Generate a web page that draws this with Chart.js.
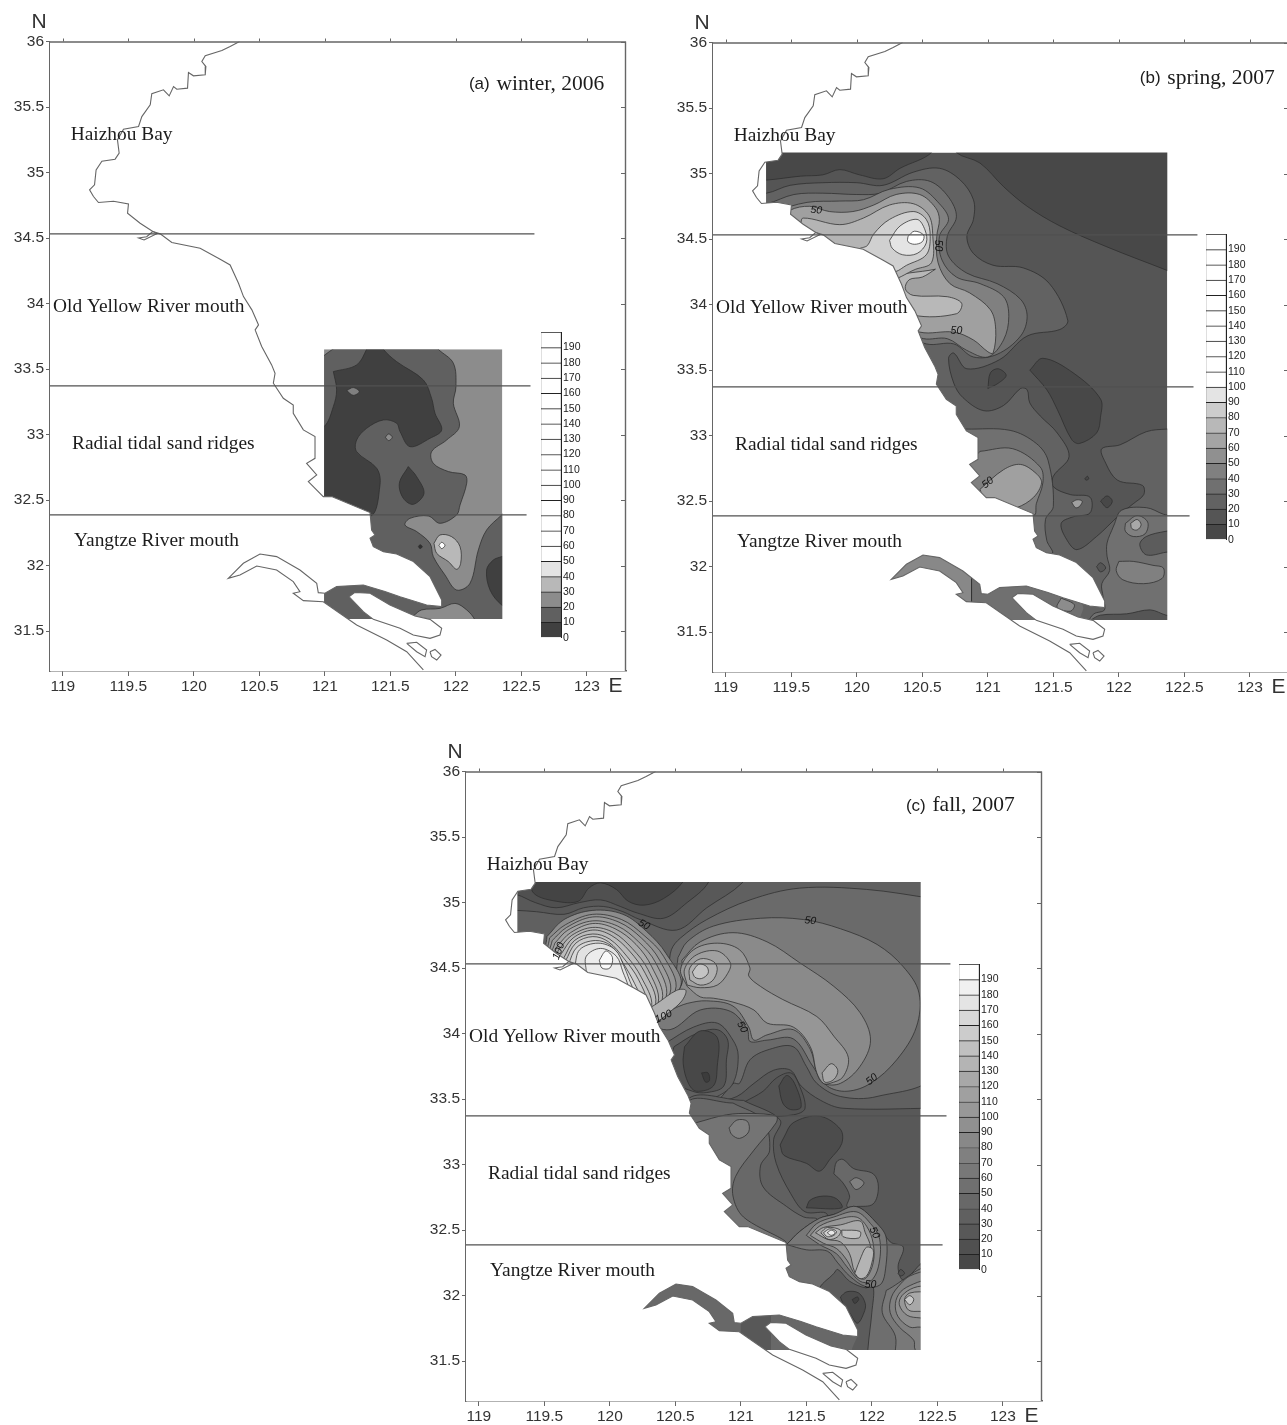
<!DOCTYPE html>
<html><head><meta charset="utf-8">
<style>html,body{margin:0;padding:0;background:#fff;overflow:hidden;width:1287px;height:1425px}canvas{position:absolute;display:block}</style>
<script src="https://cdn.jsdelivr.net/npm/chart.js@4/dist/chart.umd.js"></script>
</head><body>
<script>
// ---------- axes ----------
const lonTicks=[119,119.5,120,120.5,121,121.5,122,122.5,123];
const latTicks=[31.5,32,32.5,33,33.5,34,34.5,35,35.5,36];
const legendTicks=[0,10,20,30,40,50,60,70,80,90,100,110,120,130,140,150,160,170,180,190];
// ---------- coastline (lon,lat) ----------
const coastNorth=[[120.349,36],[120.277,35.962],[120.214,35.931],[120.087,35.891],[120.061,35.847],[120.092,35.809],[120.087,35.746],[119.997,35.738],[119.959,35.763],[119.952,35.644],[119.870,35.636],[119.845,35.656],[119.812,35.585],[119.768,35.631],[119.679,35.601],[119.667,35.517],[119.603,35.427],[119.578,35.351],[119.463,35.331],[119.417,35.249],[119.430,35.148],[119.399,35.102],[119.298,35.087],[119.254,35.020],[119.242,34.906],[119.204,34.868],[119.234,34.817],[119.272,34.771],[119.387,34.781],[119.501,34.761],[119.494,34.690],[119.590,34.613],[119.687,34.550],[119.743,34.532],[119.832,34.466],[120.048,34.422],[120.201,34.338],[120.277,34.295],[120.341,34.155],[120.379,34.053],[120.443,33.952],[120.494,33.837],[120.468,33.799],[120.518,33.672],[120.594,33.532],[120.620,33.468],[120.607,33.392],[120.683,33.277],[120.759,33.226],[120.759,33.163],[120.836,33.036],[120.925,32.985],[120.925,32.819],[120.861,32.781],[120.938,32.692],[120.874,32.641],[120.988,32.527],[121.052,32.527],[121.345,32.405],[121.357,32.272],[121.383,32.234],[121.345,32.209],[121.370,32.145],[121.447,32.107],[121.548,32.089],[121.676,32.031],[121.803,31.916],[121.892,31.738],[121.892,31.687]];
const riverNorth=[[121.777,31.700],[121.574,31.763],[121.459,31.802],[121.294,31.852],[121.090,31.840],[121.001,31.789],[120.950,31.794],[120.938,31.865],[120.810,31.967],[120.632,32.069],[120.505,32.089],[120.378,32.018],[120.263,31.903]];
const riverSouth=[[120.263,31.903],[120.352,31.929],[120.480,31.997],[120.632,31.967],[120.759,31.878],[120.810,31.801],[120.759,31.789],[120.836,31.733],[120.988,31.725],[121.243,31.547],[121.472,31.433],[121.625,31.343],[121.752,31.204]];
const landNorthEnd=[[118.9,31.903],[118.9,36.01],[120.349,36.01]];
const landSouthEnd=[[121.8,31.19],[118.9,31.19],[118.9,31.96],[120.2,31.96]];
const chongming=[[121.184,31.763],[121.230,31.796],[121.345,31.789],[121.497,31.700],[121.688,31.616],[121.803,31.590],[121.892,31.522],[121.879,31.471],[121.803,31.445],[121.675,31.471],[121.574,31.522],[121.370,31.590],[121.294,31.649]];
const isleA=[[121.625,31.407],[121.701,31.415],[121.777,31.356],[121.765,31.305],[121.701,31.343]];
const isleB=[[121.803,31.343],[121.841,31.361],[121.887,31.318],[121.854,31.280],[121.815,31.305]];
const spit=[[119.687,34.550],[119.640,34.510],[119.578,34.500],[119.620,34.485],[119.720,34.535]];
// ---------- zone divider latitudes and east ends ----------
const dividerLat=[34.532,33.372,32.387];
const dividerEnd=[122.6,122.57,122.54];
// ---------- shading levels ----------
const shadesA=['#404040','#606060','#8c8c8c','#b8b8b8','#e4e4e4','#fff','#fff','#fff','#fff','#fff','#fff','#fff','#fff','#fff','#fff','#fff','#fff','#fff','#fff','#fff'];
const shadesB=['#484848','#555555','#626262','#707070','#808080','#909090','#a4a4a4','#b8b8b8','#cccccc','#e4e4e4','#fff','#fff','#fff','#fff','#fff','#fff','#fff','#fff','#fff','#fff'];
const shadesC=['#484848','#505050','#585858','#606060','#686868','#707070','#787878','#808080','#888888','#909090','#989898','#a0a0a0','#a8a8a8','#b4b4b4','#c0c0c0','#cccccc','#d8d8d8','#e4e4e4','#f0f0f0','#ffffff'];
// ---------- panel (a) ----------
const boxA=[120.994,31.593,122.355,33.651];
const aMid=[[120.912,33.545],[121.167,33.697],[121.828,33.697],[121.866,33.651],[121.981,33.545],[122.001,33.366],[121.981,33.239],[122.027,33.061],[121.930,32.959],[121.815,32.870],[121.828,32.781],[121.943,32.718],[122.070,32.692],[122.083,32.629],[122.032,32.463],[122.006,32.387],[121.879,32.323],[121.790,32.379],[121.650,32.361],[121.612,32.310],[121.701,32.260],[121.803,32.170],[121.828,32.069],[121.917,31.929],[122.006,31.814],[122.108,31.865],[122.172,32.120],[122.235,32.272],[122.350,32.387],[122.414,32.450],[122.414,31.509],[120.912,31.509]];
const aDark=[[121.065,33.481],[121.243,33.532],[121.319,33.651],[121.332,33.697],[121.434,33.697],[121.447,33.651],[121.548,33.557],[121.752,33.417],[121.815,33.277],[121.841,33.163],[121.892,33.036],[121.803,32.972],[121.650,32.908],[121.574,33.023],[121.548,33.087],[121.447,33.112],[121.319,33.048],[121.243,32.959],[121.243,32.870],[121.396,32.743],[121.421,32.616],[121.345,32.374],[121.0,32.45],[120.887,32.578],[120.887,33.061],[120.994,33.061],[121.065,33.214],[121.090,33.341]];
const aSpot1=[[121.167,33.336],[121.217,33.359],[121.263,33.328],[121.217,33.300]];
const aSpot2=[[121.462,32.980],[121.487,33.005],[121.515,32.980],[121.487,32.954]];
const aIsle=[[121.637,32.756],[121.701,32.679],[121.757,32.552],[121.676,32.468],[121.599,32.514],[121.569,32.629]];
const aDot=[[121.714,32.145],[121.727,32.160],[121.744,32.145],[121.727,32.130]];
const aLight=[[121.833,32.171],[121.879,32.234],[121.968,32.221],[122.032,32.145],[122.037,32.018],[122.006,31.972],[121.943,32.031],[121.854,32.094]];
const aPeak=[[121.871,32.155],[121.892,32.178],[121.917,32.155],[121.892,32.130]];
const aEast=[[122.350,32.069],[122.286,32.043],[122.235,31.967],[122.261,31.814],[122.350,31.700],[122.414,31.687],[122.414,32.069]];
const aMouth=[[121.675,31.616],[121.739,31.662],[121.879,31.674],[121.994,31.712],[122.083,31.662],[122.146,31.585],[122.159,31.509],[121.675,31.509]];
// ---------- panel (b) ----------
const boxB=[119.307,31.593,122.37,35.160];
const bNE=[[120.74,35.26],[120.76,35.16],[120.94,35.08],[121.12,34.90],[121.30,34.75],[121.55,34.60],[121.91,34.44],[122.37,34.26],[122.54,34.19],[122.54,35.26]];
const bNW=[[119.16,34.95],[119.31,34.95],[119.57,34.98],[119.74,34.99],[119.87,35.03],[120.02,34.99],[120.20,34.96],[120.33,35.04],[120.57,35.16],[120.56,35.26],[119.16,35.26]];
const bL20=[[119.16,34.86],[119.31,34.85],[119.49,34.91],[119.74,34.93],[120.0,34.93],[120.20,34.91],[120.43,35.01],[120.63,35.04],[120.79,34.95],[120.89,34.80],[120.89,34.65],[120.84,34.52],[120.89,34.39],[121.04,34.30],[121.27,34.28],[121.47,34.16],[121.61,33.88],[121.55,33.81],[121.30,33.76],[121.09,33.58],[120.84,33.51],[120.74,33.63],[120.70,33.59],[120.74,33.40],[120.81,33.29],[120.97,33.19],[121.12,33.23],[121.25,33.36],[121.30,33.35],[121.32,33.25],[121.40,33.15],[121.53,33.02],[121.62,32.84],[121.50,32.69],[121.50,32.61],[121.63,32.55],[121.78,32.53],[121.78,32.41],[121.65,32.38],[121.56,32.33],[121.60,32.21],[121.68,32.13],[121.83,32.23],[122.0,32.39],[122.11,32.48],[122.19,32.55],[122.18,32.62],[121.99,32.66],[121.89,32.81],[121.87,32.90],[122.01,32.93],[122.21,33.03],[122.37,33.05],[122.47,33.05],[122.47,31.49],[120.18,31.49],[120.0,31.5],[120.0,33.2],[119.74,34.37],[119.16,34.75]];
const bL30=[[119.16,34.77],[119.31,34.77],[119.52,34.84],[119.74,34.85],[120.0,34.84],[120.18,34.85],[120.38,34.94],[120.56,34.94],[120.70,34.82],[120.76,34.67],[120.69,34.52],[120.70,34.37],[120.84,34.24],[121.07,34.16],[121.25,34.04],[121.30,33.91],[121.25,33.76],[121.07,33.62],[120.89,33.60],[120.74,33.70],[120.53,33.70],[120.13,33.86],[119.74,34.37]];
const bL40=[[119.36,34.71],[119.62,34.78],[119.87,34.79],[120.05,34.80],[120.25,34.88],[120.48,34.89],[120.63,34.77],[120.70,34.65],[120.63,34.52],[120.65,34.34],[120.76,34.21],[120.94,34.16],[121.12,34.06],[121.16,33.91],[121.12,33.73],[121.0,33.60],[120.84,33.65],[120.69,33.74],[120.51,33.74],[120.13,33.86],[119.74,34.37]];
const bL50=[[119.44,34.65],[119.49,34.72],[119.64,34.75],[119.79,34.71],[119.97,34.71],[120.13,34.76],[120.30,34.84],[120.48,34.84],[120.60,34.74],[120.63,34.65],[120.61,34.52],[120.62,34.32],[120.71,34.16],[120.86,34.09],[121.02,33.96],[121.06,33.81],[121.04,33.63],[121.0,33.64],[120.89,33.73],[120.74,33.79],[120.48,33.79],[120.13,33.93],[119.74,34.37]];
const bLobe=[[120.60,34.27],[120.50,34.21],[120.40,34.19],[120.37,34.12],[120.43,34.07],[120.69,34.06],[120.80,34.01],[120.76,33.93],[120.43,33.92],[120.23,34.04],[120.23,34.19]];
const bL60=[[119.57,34.60],[119.59,34.66],[119.87,34.61],[120.05,34.66],[120.25,34.76],[120.43,34.77],[120.55,34.68],[120.58,34.52],[120.57,34.32],[120.45,34.27],[120.23,34.19],[119.87,34.37]];
const bL70=[[120.13,34.30],[120.02,34.42],[120.08,34.45],[120.13,34.54],[120.25,34.65],[120.43,34.71],[120.53,34.65],[120.56,34.52],[120.53,34.38],[120.38,34.30],[120.28,34.25]];
const bL80=[[120.25,34.49],[120.33,34.60],[120.46,34.65],[120.52,34.57],[120.53,34.47],[120.46,34.39],[120.35,34.38],[120.27,34.43]];
const bPeak=[[120.39,34.52],[120.44,34.56],[120.51,34.53],[120.50,34.48],[120.44,34.46],[120.39,34.48]];
const bBlobMid=[[121.32,33.50],[121.42,33.59],[121.65,33.48],[121.86,33.28],[121.86,33.14],[121.83,33.02],[121.70,32.94],[121.64,32.97],[121.53,33.20],[121.45,33.35]];
const bBlobW=[[121.0,33.36],[121.02,33.48],[121.08,33.51],[121.14,33.46],[121.08,33.40]];
const bCoast1=[[120.83,33.05],[121.17,33.04],[121.37,32.94],[121.46,32.81],[121.50,32.46],[121.44,32.36],[121.45,32.20],[121.49,32.10],[121.19,32.10],[120.69,32.66],[120.69,33.09]];
const bCoast2=[[120.94,32.88],[121.19,32.90],[121.40,32.76],[121.42,32.64],[121.37,32.48],[121.35,32.39],[120.94,32.36],[120.76,32.66]];
const bCoast3=[[120.94,32.59],[121.12,32.74],[121.25,32.78],[121.37,32.71],[121.41,32.64],[121.35,32.53],[121.22,32.45],[121.02,32.41]];
const bSpotLight=[[121.64,32.49],[121.68,32.51],[121.72,32.50],[121.70,32.46],[121.67,32.45]];
const bSpotDark=[[121.86,32.50],[121.91,32.54],[121.95,32.50],[121.91,32.45]];
const bDot=[[121.74,32.67],[121.76,32.69],[121.77,32.67],[121.75,32.66]];
const bEast=[[121.96,32.31],[122.02,32.43],[122.21,32.45],[122.34,32.40],[122.47,32.36],[122.47,31.49],[121.77,31.49],[121.77,31.58],[121.81,31.64],[121.89,31.67],[121.88,31.77],[121.87,31.87],[121.93,31.97],[121.91,32.08],[121.91,32.18]];
const bEastDark=[[122.47,32.28],[122.36,32.27],[122.21,32.23],[122.16,32.17],[122.21,32.09],[122.36,32.11],[122.47,32.13]];
const bEastLobe=[[122.00,32.04],[122.11,32.04],[122.26,32.01],[122.34,31.99],[122.33,31.91],[122.19,31.87],[122.03,31.90],[121.98,31.97]];
const bRing=[[122.05,32.33],[122.14,32.39],[122.22,32.34],[122.20,32.25],[122.11,32.23],[122.05,32.27]];
const bRingIn=[[122.09,32.33],[122.14,32.36],[122.17,32.32],[122.14,32.28],[122.10,32.29]];
const bDot2=[[121.83,32.00],[121.86,32.03],[121.90,31.99],[121.86,31.96]];
const bSouth=[[121.78,31.59],[121.86,31.63],[122.06,31.64],[122.24,31.67],[122.36,31.63],[122.47,31.61],[122.47,31.49],[121.78,31.49]];
const bRiverW=[[120.877,32.2],[120.877,31.6],[120.1,31.6],[120.1,32.2]];
const bRiverMid=[[120.88,31.95],[121.0,31.95],[121.70,31.80],[121.73,31.68],[121.70,31.60],[121.70,31.5],[120.88,31.5]];
const bRiverPatch=[[121.56,31.76],[121.66,31.71],[121.63,31.66],[121.53,31.69]];
// ---------- panel (c) ----------
const boxC=[119.294,31.585,122.373,35.156];
const cNorth=[[122.47,33.43],[121.78,33.43],[121.61,33.49],[121.46,33.60],[121.38,33.72],[121.25,33.72],[121.10,33.62],[120.97,33.52],[120.79,33.47],[120.63,33.42],[120.31,33.42],[119.80,33.98],[119.21,34.74],[119.21,35.25],[122.47,35.25]];
const cTop2=[[119.21,34.94],[119.29,34.94],[119.44,34.93],[119.65,34.91],[119.80,34.96],[119.95,34.97],[120.10,34.93],[120.23,34.87],[120.51,34.79],[120.74,34.96],[121.01,35.15],[121.02,35.25],[119.21,35.25]];
const cTop1=[[119.21,35.06],[119.29,35.06],[119.43,35.0],[119.59,34.96],[119.77,35.0],[119.93,35.02],[120.08,34.97],[120.21,34.92],[120.41,34.88],[120.59,35.0],[120.75,35.15],[120.74,35.25],[119.21,35.25]];
const cTop0=[[119.39,35.20],[119.42,35.07],[119.59,35.01],[119.76,35.01],[119.84,35.11],[119.93,35.15],[120.05,35.10],[120.14,35.01],[120.26,34.98],[120.41,35.03],[120.56,35.16],[120.57,35.25],[119.39,35.25]];
const cA=[[122.47,35.03],[121.96,35.10],[121.45,35.11],[121.07,35.02],[120.74,34.87],[120.54,34.73],[120.47,34.64],[120.46,34.51],[120.50,34.44],[120.54,34.36],[120.41,34.10],[120.31,33.93],[120.31,33.47],[120.63,33.44],[120.82,33.49],[120.94,33.62],[120.99,33.62],[121.07,33.80],[121.22,33.88],[121.40,33.90],[121.50,33.75],[121.58,33.62],[121.76,33.52],[122.04,33.52],[122.47,33.70]];
const cB=[[120.52,34.58],[120.59,34.70],[120.79,34.82],[121.15,34.88],[121.48,34.87],[121.76,34.80],[122.04,34.68],[122.24,34.51],[122.36,34.31],[122.34,34.05],[122.19,33.80],[121.99,33.62],[121.81,33.56],[121.66,33.60],[121.55,33.75],[121.40,33.96],[121.20,33.95],[121.07,33.94],[121.05,34.03],[120.92,34.17],[120.69,34.18],[120.46,34.03],[120.28,34.10],[120.43,34.23],[120.55,34.36],[120.51,34.44]];
const cC=[[120.55,34.56],[120.69,34.70],[120.94,34.77],[121.20,34.70],[121.45,34.54],[121.71,34.36],[121.91,34.16],[121.99,33.95],[121.91,33.75],[121.76,33.62],[121.63,33.62],[121.58,33.70],[121.53,33.88],[121.40,34.03],[121.20,33.99],[121.10,33.95],[121.06,34.05],[120.94,34.21],[120.74,34.25],[120.59,34.23],[120.43,34.18],[120.55,34.38]];
const cD=[[120.59,34.36],[120.54,34.49],[120.64,34.64],[120.82,34.69],[120.99,34.64],[121.07,34.50],[121.06,34.44],[121.15,34.36],[121.32,34.26],[121.58,34.13],[121.71,33.98],[121.82,33.82],[121.78,33.67],[121.68,33.62],[121.63,33.62],[121.58,33.70],[121.53,33.90],[121.40,34.05],[121.20,34.08],[121.10,34.18],[120.94,34.24],[120.79,34.27],[120.69,34.28]];
const cRing2=[[120.59,34.37],[120.57,34.49],[120.66,34.60],[120.82,34.63],[120.92,34.54],[120.90,34.46],[120.82,34.37],[120.69,34.35]];
const cRing3=[[120.61,34.41],[120.61,34.50],[120.69,34.57],[120.79,34.55],[120.82,34.49],[120.78,34.40],[120.69,34.37]];
const cRing4=[[120.63,34.47],[120.68,34.53],[120.74,34.51],[120.75,34.46],[120.70,34.42],[120.65,34.43]];
const cLobeE=[[121.62,33.70],[121.69,33.77],[121.74,33.72],[121.71,33.65],[121.64,33.63]];
const cN100=[[120.28,34.18],[120.36,34.23],[120.51,34.33],[120.58,34.33],[120.55,34.25],[120.45,34.16],[120.36,34.10]];
const peakLand=[[120.2,34.0],[119.5,34.4]];
const arc0=[[119.52,34.74],[119.65,34.87],[119.87,34.94],[120.10,34.91],[120.28,34.78],[120.43,34.61],[120.54,34.36]];
const arc1=[[119.54,34.73],[119.66,34.83],[119.87,34.91],[120.09,34.87],[120.26,34.75],[120.41,34.59],[120.50,34.33]];
const arc2=[[119.56,34.71],[119.67,34.81],[119.87,34.89],[120.07,34.85],[120.24,34.73],[120.38,34.56],[120.46,34.31]];
const arc3=[[119.58,34.69],[119.68,34.79],[119.87,34.86],[120.06,34.82],[120.22,34.70],[120.35,34.54],[120.43,34.28]];
const arc4=[[119.60,34.67],[119.70,34.77],[119.87,34.84],[120.04,34.80],[120.20,34.68],[120.32,34.51],[120.40,34.26]];
const arc5=[[119.61,34.64],[119.71,34.75],[119.87,34.81],[120.03,34.77],[120.17,34.65],[120.29,34.49],[120.37,34.24]];
const arc6=[[119.63,34.61],[119.72,34.73],[119.87,34.79],[120.01,34.75],[120.15,34.63],[120.27,34.46],[120.35,34.23]];
const arc7=[[119.65,34.58],[119.73,34.71],[119.87,34.76],[120.0,34.72],[120.13,34.59],[120.24,34.43],[120.32,34.21]];
const arc8=[[119.66,34.55],[119.74,34.69],[119.87,34.74],[119.99,34.70],[120.11,34.57],[120.22,34.41],[120.29,34.20]];
const arc9=[[119.68,34.52],[119.75,34.66],[119.89,34.71],[120.01,34.67],[120.10,34.54],[120.19,34.38],[120.26,34.20]];
const arc10=[[119.73,34.50],[119.77,34.64],[119.91,34.69],[120.04,34.64],[120.11,34.51],[120.17,34.36],[120.23,34.26]];
const arc11=[[119.82,34.47],[119.82,34.59],[119.93,34.65],[120.05,34.59],[120.10,34.47],[120.14,34.36]];
const cPeak=[[119.92,34.56],[119.97,34.63],[120.02,34.58],[120.0,34.50],[119.94,34.50]];
const cLobe1=[[120.43,33.93],[120.64,34.05],[120.82,34.08],[120.94,33.95],[120.98,33.83],[120.94,33.62],[120.82,33.52],[120.64,33.47],[120.38,33.60]];
const cLobe2=[[120.49,33.90],[120.66,34.0],[120.82,34.03],[120.90,33.95],[120.89,33.80],[120.87,33.60],[120.74,33.55],[120.63,33.56],[120.43,33.67]];
const cLobe3=[[120.57,33.90],[120.69,34.02],[120.82,33.97],[120.82,33.75],[120.79,33.60],[120.66,33.56],[120.60,33.62],[120.56,33.77]];
const cLobeSpot=[[120.70,33.70],[120.75,33.70],[120.76,33.64],[120.73,33.63]];
const cP0=[[121.03,33.48],[121.17,33.56],[121.27,33.66],[121.38,33.70],[121.44,33.62],[121.49,33.43],[121.40,33.38],[121.15,33.38]];
const cP1=[[121.29,33.60],[121.35,33.68],[121.41,33.62],[121.46,33.44],[121.38,33.42],[121.32,33.47]];
const cWestC=[[121.02,33.49],[121.30,33.34],[121.25,33.19],[121.27,33.01],[121.38,32.78],[121.49,32.64],[121.66,32.62],[121.66,32.35],[120.84,32.35],[120.46,32.73],[120.59,33.49]];
const cWestB=[[120.94,33.47],[121.17,33.34],[121.22,33.11],[121.15,32.99],[121.17,32.83],[121.35,32.68],[121.48,32.60],[121.58,32.58],[121.35,32.35],[120.84,32.35],[120.46,32.73],[120.59,33.47]];
const cWestA=[[120.66,33.32],[120.89,33.38],[121.07,33.39],[121.27,33.37],[121.27,33.32],[121.10,33.11],[120.96,32.91],[120.94,32.76],[121.02,32.60],[121.35,32.39],[120.84,32.35],[120.46,32.73],[120.46,33.32]];
const cWestRing=[[120.91,33.28],[120.97,33.34],[121.05,33.33],[121.06,33.25],[120.99,33.20],[120.93,33.23]];
const cDarkD=[[121.30,33.15],[121.33,33.21],[121.40,33.32],[121.60,33.37],[121.76,33.27],[121.77,33.16],[121.68,33.04],[121.60,32.95],[121.50,33.01],[121.33,33.07]];
const cDarkE=[[121.50,32.67],[121.53,32.73],[121.63,32.76],[121.73,32.74],[121.77,32.67]];
const cF=[[121.71,32.93],[121.73,33.02],[121.78,33.04],[121.86,32.97],[122.01,32.93],[122.05,32.83],[122.01,32.70],[121.88,32.68],[121.81,32.68],[121.83,32.76],[121.78,32.86]];
const cFRing=[[121.83,32.87],[121.88,32.90],[121.94,32.86],[121.88,32.81]];
const cW0=[[121.35,32.39],[121.45,32.49],[121.60,32.59],[121.71,32.62],[121.88,32.68],[122.04,32.55],[122.14,32.41],[122.24,32.37],[122.20,32.22],[122.24,32.12],[122.38,32.25],[122.44,32.30],[122.44,31.46],[121.60,31.46],[121.35,31.97],[121.30,32.35]];
const cSD=[[121.71,32.17],[121.74,32.20],[121.83,32.11],[121.95,32.06],[122.01,32.07],[122.0,31.87],[121.97,31.59],[121.97,31.46],[121.73,31.46],[121.73,31.84],[121.60,32.04]];
const cSD2=[[121.76,31.99],[121.81,32.03],[121.90,32.02],[121.95,31.94],[121.94,31.87],[121.89,31.79],[121.83,31.87],[121.78,31.94]];
const cSD3=[[121.85,31.97],[121.89,31.99],[121.90,31.97],[121.87,31.94]];
const cPk0=[[121.35,32.39],[121.45,32.49],[121.60,32.59],[121.71,32.62],[121.88,32.68],[122.04,32.55],[122.11,32.44],[122.10,32.17],[122.06,32.08],[121.95,32.07],[121.83,32.15],[121.74,32.25],[121.66,32.34],[121.50,32.35]];
const cPk1=[[121.50,32.46],[121.58,32.55],[121.71,32.60],[121.88,32.64],[121.99,32.55],[122.06,32.43],[122.05,32.22],[121.99,32.11],[121.91,32.11],[121.81,32.22],[121.73,32.32],[121.60,32.39]];
const cPk2=[[121.53,32.46],[121.60,32.53],[121.73,32.58],[121.88,32.60],[121.96,32.53],[122.01,32.40],[122.01,32.25],[121.95,32.13],[121.88,32.15],[121.81,32.27],[121.73,32.36],[121.63,32.40]];
const cPk3=[[121.57,32.48],[121.63,32.52],[121.76,32.54],[121.91,32.57],[121.95,32.48],[121.99,32.37],[121.97,32.22],[121.92,32.15],[121.87,32.18],[121.83,32.32],[121.76,32.41],[121.66,32.43]];
const cPkBar=[[121.77,32.50],[121.91,32.49],[121.90,32.44],[121.78,32.45]];
const cPkLobe=[[121.87,32.17],[121.92,32.30],[121.96,32.37],[122.01,32.35],[122.0,32.25],[121.96,32.15],[121.91,32.13]];
const cPkR1=[[121.61,32.48],[121.66,32.52],[121.76,32.50],[121.74,32.45],[121.67,32.43]];
const cPkR2=[[121.63,32.48],[121.68,32.51],[121.73,32.49],[121.71,32.46],[121.66,32.45]];
const cPkR3=[[121.66,32.48],[121.69,32.50],[121.72,32.48],[121.69,32.46]];
const cE0=[[122.11,32.04],[122.08,31.87],[122.18,31.69],[122.19,31.46],[122.44,31.46],[122.44,32.20]];
const cE1=[[122.44,32.20],[122.29,32.15],[122.22,32.09],[122.15,31.99],[122.14,31.87],[122.21,31.76],[122.32,31.66],[122.33,31.59],[122.44,31.46]];
const cE2=[[122.44,32.13],[122.32,32.09],[122.22,32.03],[122.18,31.94],[122.20,31.84],[122.29,31.76],[122.37,31.76],[122.44,31.74]];
const cE3=[[122.44,32.08],[122.32,32.06],[122.23,32.0],[122.21,31.93],[122.27,31.85],[122.37,31.83],[122.44,31.83]];
const cE4=[[122.44,32.03],[122.29,32.02],[122.25,31.97],[122.28,31.89],[122.37,31.88],[122.44,31.88]];
const cE5=[[122.25,31.97],[122.29,32.0],[122.32,31.97],[122.29,31.93]];
const cSpot=[[122.20,32.17],[122.22,32.20],[122.25,32.17],[122.22,32.15]];
const cRiver=[[120.2,32.15],[121.4,32.0],[121.89,31.69],[121.85,31.60],[121.85,31.46],[120.2,31.46]];
const cRiverDark=[[121.0,32.0],[121.23,32.0],[121.23,31.5],[121.0,31.5]];
// ---------- texts ----------
const zoneNames=[['Haizhou Bay',119.06,35.285],['Old Yellow River mouth',118.925,33.972],['Radial tidal sand ridges',119.07,32.932],['Yangtze River mouth',119.085,32.188]];
const isoLabelsB=[['50',119.69,34.72,5],['50',120.62,34.45,90],['50',120.76,33.80,0],['50',121.0,32.64,-40]];
const isoLabelsC=[['50',120.26,34.83,30],['50',121.53,34.86,5],['50',121.01,34.05,60],['50',122.0,33.65,-40],['100',119.61,34.63,-70],['100',120.41,34.13,-25],['50',122.02,32.48,65],['50',121.99,32.08,0]];

// ---------- layers, bottom to top: [points, colour, line?, smooth?] ----------
const rectOf=b=>[[b[0],b[1]],[b[2],b[1]],[b[2],b[3]],[b[0],b[3]]];
const layersA=[[rectOf(boxA),'#8c8c8c',0,0],[aMid,'#606060'],[aDark,'#404040'],[aSpot1,'#808080'],[aSpot2,'#8c8c8c'],[aIsle,'#404040'],[aDot,'#303030'],[aLight,'#b8b8b8',1],[aPeak,'#fff'],[aEast,'#404040'],[aMouth,'#8c8c8c']];
const layersB=[[rectOf(boxB),'#555555',0,0],[bNE,'#484848'],[bNW,'#484848'],[bL20,'#626262'],[bL30,'#707070'],[bL40,'#808080'],[bL50,'#a0a0a0'],[bLobe,'#b8b8b8'],[bL60,'#b4b4b4'],[bL70,'#d0d0d0'],[bL80,'#e4e4e4'],[bPeak,'#ffffff'],[bBlobMid,'#484848'],[bBlobW,'#484848'],[bCoast1,'#707070'],[bCoast2,'#808080'],[bCoast3,'#a0a0a0'],[bSpotLight,'#a0a0a0'],[bSpotDark,'#484848'],[bDot,'#484848'],[bEast,'#707070'],[bEastDark,'#5c5c5c'],[bEastLobe,'#808080'],[bRing,'#808080'],[bRingIn,'#a8a8a8'],[bDot2,'#555555'],[bSouth,'#555555'],[bRiverW,'#888888',1,0],[bRiverMid,'#707070',0,0],[bRiverPatch,'#8c8c8c']];
const arcFill=['#8c8c8c','#949494','#9c9c9c','#a4a4a4','#acacac','#b4b4b4','#bcbcbc','#c4c4c4','#cccccc','#d8d8d8','#e2e2e2','#ececec'];
const arcs=[arc0,arc1,arc2,arc3,arc4,arc5,arc6,arc7,arc8,arc9,arc10,arc11];
const layersC=[[rectOf(boxC),'#585858',0,0],[cNorth,'#606060'],[cTop2,'#585858'],[cTop1,'#505050'],[cTop0,'#444444'],[cA,'#6a6a6a'],[cB,'#7a7a7a'],[cC,'#8a8a8a'],[cD,'#969696'],[cRing2,'#a0a0a0'],[cRing3,'#b0b0b0'],[cRing4,'#c4c4c4'],[cLobeE,'#a8a8a8'],
 ...arcs.map((a,i)=>[a.concat(peakLand),arcFill[i]]),[cPeak,'#fafafa'],[cN100,'#b0b0b0'],[cLobe1,'#606060'],[cLobe2,'#545454'],[cLobe3,'#484848'],[cLobeSpot,'#3c3c3c'],[cP0,'#545454'],[cP1,'#484848'],[cWestC,'#606060'],[cWestB,'#686868'],[cWestA,'#747474'],[cWestRing,'#808080'],[cDarkD,'#4c4c4c'],[cDarkE,'#484848'],[cF,'#686868'],[cFRing,'#808080'],[cW0,'#6e6e6e'],[cSD,'#5c5c5c'],[cSD2,'#4c4c4c'],[cSD3,'#404040'],[cPk0,'#787878'],[cPk1,'#888888'],[cPk2,'#989898'],[cPk3,'#a8a8a8'],[cPkLobe,'#b4b4b4'],[cPkBar,'#c0c0c0'],[cPkR1,'#b8b8b8'],[cPkR2,'#d0d0d0'],[cPkR3,'#e8e8e8'],[cE0,'#787878'],[cE1,'#808080'],[cE2,'#8c8c8c'],[cE3,'#989898'],[cE4,'#a8a8a8'],[cE5,'#c8c8c8'],[cSpot,'#505050'],[cRiver,'#686868',0,0],[cRiverDark,'#585858',0,0]];

const FRAME={xMin:118.902,xMax:123.299,yMin:31.196,yMax:36.0};
const closed=p=>p.concat([p[0]]).map(([x,y])=>({x,y}));
function poly(p,fillCol,o={}){return {data:closed(p),showLine:true,fill:'shape',backgroundColor:fillCol,borderColor:o.line===0?fillCol:'#2e2e2e',borderWidth:o.line===0?0:0.75,pointRadius:0,tension:o.smooth===0?0:0.35};}
function wire(p,c,w){return {data:p.map(([x,y])=>({x,y})),showLine:true,fill:false,borderColor:c,borderWidth:w,pointRadius:0,tension:0};}

const mapText={id:'mapText',afterDraw(ch,_,o){const c=ch.ctx,X=ch.scales.x,Y=ch.scales.y;c.save();
  const a=ch.chartArea;c.strokeStyle='#666';c.lineWidth=1.4;c.beginPath();
  c.moveTo(a.left,a.top+.5);c.lineTo(a.right,a.top+.5);c.moveTo(a.right-.5,a.top);c.lineTo(a.right-.5,a.bottom);
  c.stroke();c.lineWidth=1;c.beginPath();
  lonTicks.forEach(v=>{const px=Math.round(X.getPixelForValue(v))+.5;c.moveTo(px,a.top);c.lineTo(px,a.top-3);});
  latTicks.forEach(v=>{const py=Math.round(Y.getPixelForValue(v))+.5;c.moveTo(a.right,py);c.lineTo(a.right-5,py);});
  c.stroke();
  c.fillStyle='#1c1c1c';c.textBaseline='middle';c.textAlign='left';
  c.font='19.4px "Liberation Serif"';
  zoneNames.forEach(([t,lo,la])=>c.fillText(t,X.getPixelForValue(lo),Y.getPixelForValue(la)));
  c.font='21px "Liberation Sans"';c.fillStyle='#333';
  c.fillText('N',X.getPixelForValue(118.76),Y.getPixelForValue(36.15));
  c.fillText('E',X.getPixelForValue(123.165),Y.getPixelForValue(31.08));
  c.fillStyle='#1c1c1c';
  const tx=X.getPixelForValue(o.title[1]),ty=Y.getPixelForValue(o.title[2]);
  c.font='17px "Liberation Sans"';c.fillText(o.title[0][0],tx,ty);const w=c.measureText(o.title[0][0]+' ').width;
  c.font='21.5px "Liberation Serif"';c.fillText(o.title[0][1],tx+w+2,ty);
  c.font='italic 10.5px "Liberation Sans"';c.textAlign='center';c.fillStyle='#111';
  (o.iso||[]).forEach(([t,lo,la,r])=>{c.save();c.translate(X.getPixelForValue(lo),Y.getPixelForValue(la));c.rotate(r*Math.PI/180);c.fillText(t,0,0);c.restore();});
  c.restore();}};

function place(w,h,l,t){const cv=document.createElement('canvas');cv.width=w;cv.height=h;cv.style.left=l+'px';cv.style.top=t+'px';cv.style.width=w+'px';cv.style.height=h+'px';document.body.appendChild(cv);return cv;}

function panel(left,top,layers,box,title,iso){
  const cv=place(640,695,left,top);
  const lower=layers.map(l=>poly(l[0],l[1],{line:l[2]===0?0:1,smooth:l[3]}));
  const white='#ffffff',F=FRAME;
  const masks=[[[F.xMin,F.yMin],[box[0],F.yMin],[box[0],F.yMax],[F.xMin,F.yMax]],[[box[2],F.yMin],[F.xMax,F.yMin],[F.xMax,F.yMax],[box[2],F.yMax]],[[F.xMin,box[3]],[F.xMax,box[3]],[F.xMax,F.yMax],[F.xMin,F.yMax]],[[F.xMin,F.yMin],[F.xMax,F.yMin],[F.xMax,box[1]],[F.xMin,box[1]]]].map(m=>poly(m,white,{line:0,smooth:0}));
  const landN=poly(coastNorth.concat(riverNorth,landNorthEnd),white,{line:0,smooth:0});
  const landS=poly(riverSouth.concat(landSouthEnd),white,{line:0,smooth:0});
  const isles=[chongming,isleA,isleB,spit].map(p=>{const d=poly(p,white,{smooth:0});d.borderColor='#666';d.borderWidth=1.1;return d;});
  const coast=[wire(coastNorth.concat(riverNorth,riverSouth.slice(1)),'#666',1.1)];
  const dividers=dividerLat.map((la,i)=>wire([[F.xMin,la],[dividerEnd[i],la]],'#505050',1.2));
  const all=[...lower,...masks,landN,landS,...isles,...coast,...dividers];
  all.forEach((d,i)=>d.order=all.length-i);
  return new Chart(cv,{type:'scatter',data:{datasets:all},options:{responsive:false,animation:false,events:[],
    layout:{padding:{top:41.5,right:14,left:0,bottom:0}},
    plugins:{legend:{display:false},tooltip:{enabled:false},mapText:{title,iso}},
    scales:{
      x:{type:'linear',min:F.xMin,max:F.xMax,afterBuildTicks:s=>{s.ticks=lonTicks.map(value=>({value}));},afterFit:s=>{s.height=24;},
        grid:{drawOnChartArea:false,color:'#666',tickLength:5},border:{color:'#666',width:1.4},
        ticks:{callback:v=>String(v),maxRotation:0,autoSkip:false,padding:1,color:'#333',font:{family:'"Liberation Sans"',size:15.5}}},
      y:{type:'linear',min:F.yMin,max:F.yMax,afterBuildTicks:s=>{s.ticks=latTicks.map(value=>({value}));},afterFit:s=>{s.width=50;},
        grid:{drawOnChartArea:false,color:'#666',tickLength:4},border:{color:'#666',width:1.4},
        ticks:{callback:v=>String(v),autoSkip:false,padding:2,color:'#333',font:{family:'"Liberation Sans"',size:15.5}}}
    }},plugins:[mapText]});
}
function colorbar(left,top,shades){
  const cv=place(56,320,left,top);
  const ds=shades.map(c=>({data:[10],backgroundColor:c,borderColor:'#222',borderWidth:{top:1,bottom:0,left:.5,right:.5},barPercentage:1,categoryPercentage:1,stack:'s'}));
  return new Chart(cv,{type:'bar',data:{labels:[''],datasets:ds},options:{responsive:false,animation:false,events:[],
    layout:{padding:{top:6,bottom:7,left:0,right:0}},plugins:{legend:{display:false},tooltip:{enabled:false}},
    scales:{x:{display:false,stacked:true},
      y:{position:'right',stacked:true,min:0,max:200,afterBuildTicks:s=>{s.ticks=legendTicks.map(value=>({value}));},afterFit:s=>{s.width=36;},
        grid:{drawOnChartArea:false,color:'#222',tickLength:1},border:{color:'#222'},
        ticks:{autoSkip:false,padding:1,color:'#222',font:{family:'"Liberation Sans"',size:10.5}}}}}});
}
panel(0,0,layersA,boxA,[['(a)','winter, 2006'],122.10,35.67],[]);
panel(663,1,layersB,boxB,[['(b)','spring, 2007'],122.16,35.723],isoLabelsB);
panel(416,730,layersC,boxC,[['(c)','fall, 2007'],122.26,35.738],isoLabelsC);
colorbar(541,325,shadesA);
colorbar(1206,227,shadesB);
colorbar(959,957,shadesC);
</script>
</body></html>
